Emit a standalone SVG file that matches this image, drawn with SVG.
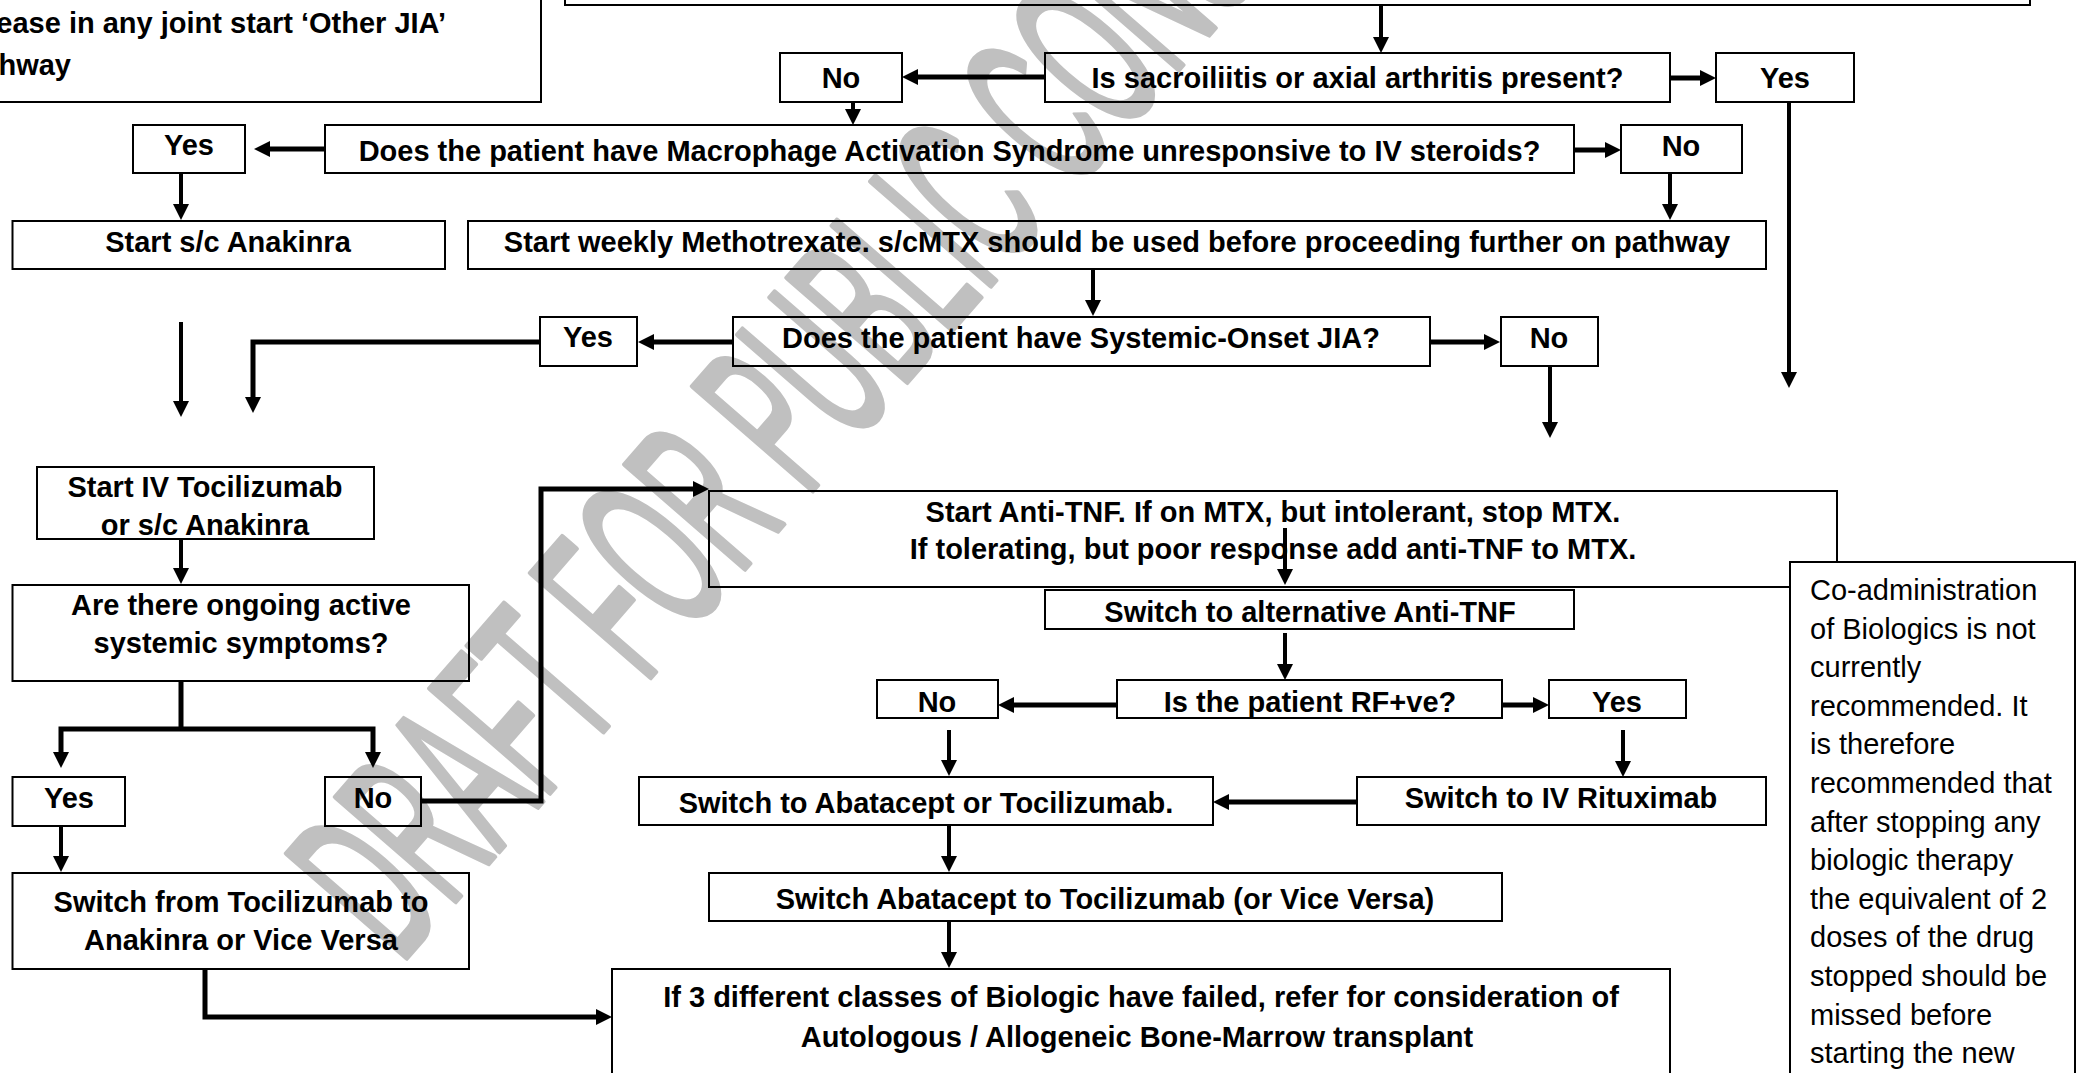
<svg xmlns="http://www.w3.org/2000/svg" width="2087" height="1073" viewBox="0 0 2087 1073">
<defs>
<style>
.bx{fill:none;stroke:#000;stroke-width:2}
.wb{fill:#fff;stroke:#000;stroke-width:2}
.t{font-family:"Liberation Sans",Arial,sans-serif;font-size:29px;font-weight:bold;fill:#000;text-anchor:middle}
.n{font-family:"Liberation Sans",Arial,sans-serif;font-size:29px;font-weight:normal;fill:#000}
.c{fill:none;stroke:#000;stroke-width:5;marker-end:url(#ah)}
.v{fill:none;stroke:#000;stroke-width:4;marker-end:url(#ah)}
.wm{font-family:"Liberation Sans",Arial,sans-serif;font-size:230px;font-weight:normal;fill:#c0c0c0;stroke:#c0c0c0;stroke-width:6;stroke-linejoin:round}
</style>
<marker id="ah" markerUnits="userSpaceOnUse" markerWidth="16" markerHeight="16" refX="8" refY="8" orient="auto">
<path d="M0,0 L16,8 L0,16 Z" fill="#000"/>
</marker>
</defs>
<rect width="2087" height="1073" fill="#fff"/>
<g id="watermark">
<text class="wm" transform="translate(400,965) rotate(-49) scale(0.45,1)">DRAFT FOR PUBLIC CONSULTATION</text>
</g>
<g id="connectors">
<path class="v" d="M1381,5 V45"/>
<path class="c" d="M1045,77 H910"/>
<path class="c" d="M1670,78 H1708"/>
<path class="v" d="M853,102 V117"/>
<path class="c" d="M325,149 H262"/>
<path class="c" d="M1574,150 H1613"/>
<path class="v" d="M181,173 V212"/>
<path class="v" d="M1670,173 V212"/>
<path class="v" d="M1093,269 V308"/>
<path class="c" d="M733,342 H646"/>
<path class="c" d="M1430,342 H1492"/>
<path class="v" d="M181,322 V409"/>
<path class="c" d="M540,342 H253 V405"/>
<path class="v" d="M1550,366 V430"/>
<path class="v" d="M1789,102 V380"/>
<path class="v" d="M181,539 V576"/>
<path class="c" d="M181,681 V729" style="marker-end:none"/>
<path class="c" d="M61,760 V729 H373 V760"/>
<path class="v" d="M61,729 V760"/>
<path class="c" d="M421,801 H541 V489 H701"/>
<path class="v" d="M61,826 V864"/>
<path class="c" d="M205,969 V1017 H604"/>
<path class="v" d="M1285,528 V577"/>
<path class="v" d="M1285,633 V672"/>
<path class="c" d="M1117,705 H1006"/>
<path class="c" d="M1502,705 H1541"/>
<path class="v" d="M949,730 V768"/>
<path class="v" d="M1623,730 V769"/>
<path class="c" d="M1357,802 H1221"/>
<path class="v" d="M949,825 V864"/>
<path class="v" d="M949,921 V960"/>
</g>
<g id="n-note-top"><rect class="bx" x="-10" y="-10" width="551" height="112"/>
<text class="t" style="text-anchor:end" x="446" y="33">ease in any joint start ‘Other JIA’</text>
<text class="t" style="text-anchor:end" x="71" y="75">hway</text></g>
<g id="n-top"><rect class="bx" x="565" y="-20" width="1465" height="25"/></g>
<g id="n-sacro"><rect class="bx" x="1045" y="53" width="625" height="49"/><text class="t" x="1357.5" y="88">Is sacroiliitis or axial arthritis present?</text></g>
<g id="n-sacro-no"><rect class="bx" x="780" y="53" width="122" height="49"/><text class="t" x="841" y="88">No</text></g>
<g id="n-sacro-yes"><rect class="bx" x="1716" y="53" width="138" height="49"/><text class="t" x="1785" y="88">Yes</text></g>
<g id="n-mas"><rect class="bx" x="325" y="125" width="1249" height="48"/><text class="t" x="949.5" y="161">Does the patient have Macrophage Activation Syndrome unresponsive to IV steroids?</text></g>
<g id="n-mas-yes"><rect class="bx" x="133" y="125" width="112" height="48"/><text class="t" x="189" y="155">Yes</text></g>
<g id="n-mas-no"><rect class="bx" x="1621" y="125" width="121" height="48"/><text class="t" x="1681" y="156">No</text></g>
<g id="n-anakinra"><rect class="bx" x="12.5" y="221" width="432.5" height="48"/><text class="t" x="228" y="252">Start s/c Anakinra</text></g>
<g id="n-mtx"><rect class="bx" x="468" y="221" width="1298" height="48"/><text class="t" x="1117" y="252">Start weekly Methotrexate. s/cMTX should be used before proceeding further on pathway</text></g>
<g id="n-sojia"><rect class="bx" x="733" y="317" width="697" height="49"/><text class="t" x="1081" y="348">Does the patient have Systemic-Onset JIA?</text></g>
<g id="n-sojia-yes"><rect class="bx" x="540" y="317" width="97" height="49"/><text class="t" x="588" y="347">Yes</text></g>
<g id="n-sojia-no"><rect class="bx" x="1501" y="317" width="97" height="49"/><text class="t" x="1549" y="348">No</text></g>
<g id="n-toc"><rect class="bx" x="37" y="467" width="337" height="72"/><text class="t" x="205" y="497">Start IV Tocilizumab</text><text class="t" x="205" y="535">or s/c Anakinra</text></g>
<g id="n-active"><rect class="bx" x="12.5" y="585" width="456.5" height="96"/><text class="t" x="241" y="615">Are there ongoing active</text><text class="t" x="241" y="653">systemic symptoms?</text></g>
<g id="n-active-yes"><rect class="bx" x="12.5" y="777" width="112.5" height="49"/><text class="t" x="69" y="808">Yes</text></g>
<g id="n-active-no"><rect class="bx" x="325" y="777" width="96" height="49"/><text class="t" x="373" y="808">No</text></g>
<g id="n-switch-toc"><rect class="bx" x="12.5" y="873" width="456.5" height="96"/><text class="t" x="241" y="912">Switch from Tocilizumab to</text><text class="t" x="241" y="950">Anakinra or Vice Versa</text></g>
<g id="n-antitnf"><rect class="bx" x="709" y="491" width="1128" height="96"/><text class="t" x="1273" y="522">Start Anti-TNF. If on MTX, but intolerant, stop MTX.</text><text class="t" x="1273" y="559">If tolerating, but poor response add anti-TNF to MTX.</text></g>
<g id="n-alt"><rect class="bx" x="1045" y="590" width="529" height="39"/><text class="t" x="1310" y="622">Switch to alternative Anti-TNF</text></g>
<g id="n-rf"><rect class="bx" x="1117" y="680" width="385" height="38"/><text class="t" x="1310" y="712">Is the patient RF+ve?</text></g>
<g id="n-rf-no"><rect class="bx" x="877" y="680" width="121" height="38"/><text class="t" x="937" y="712">No</text></g>
<g id="n-rf-yes"><rect class="bx" x="1549" y="680" width="137" height="38"/><text class="t" x="1617" y="712">Yes</text></g>
<g id="n-abatacept"><rect class="bx" x="639" y="777" width="574" height="48"/><text class="t" x="926" y="813">Switch to Abatacept or Tocilizumab.</text></g>
<g id="n-rituximab"><rect class="bx" x="1357" y="777" width="409" height="48"/><text class="t" x="1561" y="808">Switch to IV Rituximab</text></g>
<g id="n-aba-toc"><rect class="bx" x="709" y="873" width="793" height="48"/><text class="t" x="1105" y="909">Switch Abatacept to Tocilizumab (or Vice Versa)</text></g>
<g id="n-bmt"><rect class="bx" x="612" y="969" width="1058" height="130"/><text class="t" x="1141" y="1007">If 3 different classes of Biologic have failed, refer for consideration of</text><text class="t" x="1137" y="1047">Autologous / Allogeneic Bone-Marrow transplant</text></g>
<g id="n-note-coadmin"><rect class="wb" x="1790" y="562" width="285" height="540"/>
<text class="n" x="1810" y="600">Co-administration</text>
<text class="n" x="1810" y="638.6">of Biologics is not</text>
<text class="n" x="1810" y="677.2">currently</text>
<text class="n" x="1810" y="715.8">recommended. It</text>
<text class="n" x="1810" y="754.4">is therefore</text>
<text class="n" x="1810" y="793">recommended that</text>
<text class="n" x="1810" y="831.6">after stopping any</text>
<text class="n" x="1810" y="870.2">biologic therapy</text>
<text class="n" x="1810" y="908.8">the equivalent of 2</text>
<text class="n" x="1810" y="947.4">doses of the drug</text>
<text class="n" x="1810" y="986">stopped should be</text>
<text class="n" x="1810" y="1024.6">missed before</text>
<text class="n" x="1810" y="1063.2">starting the new</text>
</g>
</svg>
